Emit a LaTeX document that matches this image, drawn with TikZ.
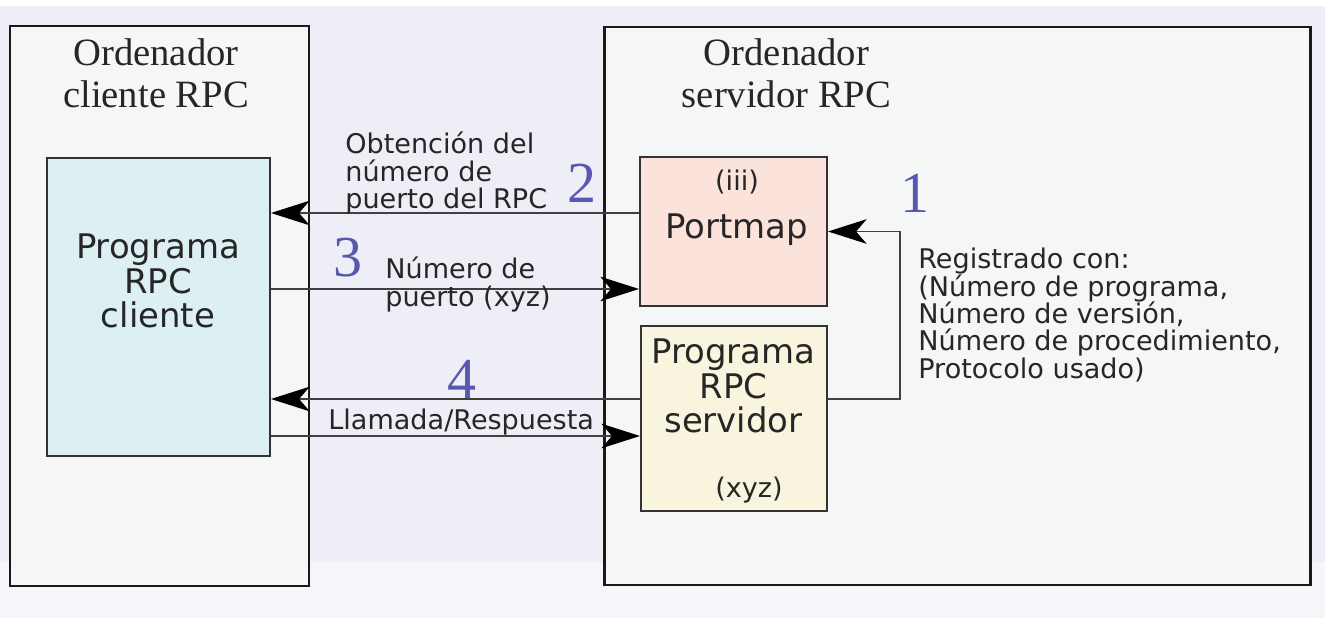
\documentclass[tikz,border=0pt]{standalone}
\usepackage{fontspec}
\setmainfont{Liberation Serif}
\newfontfamily\dejavu{DejaVu Sans}
\usepackage{xcolor}
\usetikzlibrary{arrows.meta,positioning}

\definecolor{bglav}{RGB}{238,238,246}
\definecolor{bglow}{RGB}{246,246,250}
\definecolor{hostgray}{RGB}{245,246,246}
\definecolor{clientcyan}{RGB}{220,240,244}
\definecolor{portpink}{RGB}{251,226,218}
\definecolor{servcream}{RGB}{248,244,222}
\definecolor{numblue}{RGB}{88,88,176}

\begin{document}
\begin{tikzpicture}[
    outer/.style={rectangle,draw=black!90,line width=1.7pt,fill=hostgray,inner sep=0pt},
    box/.style={rectangle,draw=black!80,line width=1.1pt,inner sep=0pt},
    title/.style={align=center,inner sep=0pt,font=\fontsize{22}{23.8}\selectfont,text=black!85},
    prog/.style={align=center,inner sep=0pt,font=\dejavu\fontsize{19.3}{19.8}\selectfont,text=black!85},
    note/.style={align=left,inner sep=0pt,font=\dejavu\fontsize{15.4}{15.4}\selectfont,text=black!85},
    num/.style={inner sep=0pt,anchor=base,font=\fontsize{33}{33}\selectfont,text=numblue},
    arrow/.style={-{Stealth[length=22pt,width=14pt,inset=6pt,color=black]},line width=0.9pt,draw=black!75}
]
    \useasboundingbox (0,0) rectangle (26.5,-12.36);
    % Background
    \fill[bglow] (0,0) rectangle (26.5,-12.36);
    \fill[bglav] (0,-0.12) rectangle (26.5,-11.24);
    \fill[white] (0,0) rectangle (26.5,-0.12);

    % Client computer
    \node[outer,minimum width=5.98cm,minimum height=11.2cm] (clientpc) at (3.19,-6.12) {};
    \node[title] (clienttitle) at (3.12,-1.47) {Ordenador\\cliente RPC};
    \node[box,fill=clientcyan,minimum width=4.46cm,minimum height=5.96cm] (client) at (3.17,-6.14) {};
    \node[prog] (clienttext) at (3.16,-5.62) {Programa\\RPC\\cliente};

    % Server computer
    \node[outer,minimum width=14.12cm,minimum height=11.16cm] (serverpc) at (19.14,-6.12) {};
    \node[title] (servertitle) at (15.73,-1.47) {Ordenador\\servidor RPC};

    % Portmap
    \node[box,fill=portpink,minimum width=3.74cm,minimum height=2.98cm] (portmap) at (14.67,-4.63) {};
    \node[note,anchor=base] (portid) at (14.74,-3.82) {(iii)};
    \node[prog,anchor=base] (porttext) at (14.73,-4.76) {Portmap};

    % Server program
    \node[box,fill=servcream,minimum width=3.72cm,minimum height=3.7cm] (server) at (14.68,-8.37) {};
    \node[prog] (servertext) at (14.67,-7.72) {Programa\\RPC\\servidor};
    \node[note,anchor=base] (servport) at (14.98,-9.94) {(xyz)};

    % Step 1: registration
    \draw[arrow] ([yshift=0.39cm]server.east) -- ++(1.44,0) |- (portmap.east);
    \node[num] (n1) at (18.3,-4.26) {1};
    \node[note,anchor=west,font=\dejavu\fontsize{15.4}{15.6}\selectfont] (regtext) at (18.36,-6.3) {Registrado con:\\(Número de programa,\\Número de versión,\\Número de procedimiento,\\Protocolo usado)};

    % Step 2: port query
    \draw[arrow] (portmap.west |- 0,-4.26) -- (client.east |- 0,-4.26);
    \node[num] (n2) at (11.64,-4.06) {2};
    \node[note,anchor=west] (asktext) at (6.9,-3.46) {Obtención del\\número de\\puerto del RPC};

    % Step 3: port answer
    \draw[arrow] (client.east |- 0,-5.78) -- (portmap.west |- 0,-5.78);
    \node[num] (n3) at (6.96,-5.54) {3};
    \node[note,anchor=west] (porttextb) at (7.7,-5.69) {Número de\\puerto (xyz)};

    % Step 4: call and reply
    \draw[arrow] (server.west |- 0,-7.98) -- (client.east |- 0,-7.98);
    \node[num] (n4) at (9.24,-7.96) {4};
    \draw[arrow] (client.east |- 0,-8.72) -- (server.west |- 0,-8.72);
    \node[note,anchor=base west] (calltext) at (6.56,-8.58) {Llamada/Respuesta};
\end{tikzpicture}
\end{document}
